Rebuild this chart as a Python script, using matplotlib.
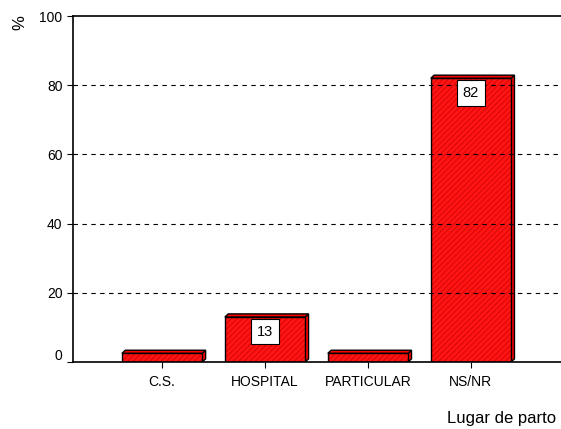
import numpy as np
import matplotlib.pyplot as plt
from matplotlib.patches import Polygon
import matplotlib.transforms as mtransforms

plt.rcParams['font.family'] = ['Liberation Sans', 'DejaVu Sans']
plt.rcParams['hatch.linewidth'] = 0.5

# Data
categorias = ['C.S.', 'HOSPITAL', 'PARTICULAR', 'NS/NR']
porcentajes = [2.5, 13, 2.5, 82]
etiquetas = ['', '13', '', '82']

fig = plt.figure(figsize=(5.61, 4.29), dpi=100)
ax = fig.add_axes([73 / 561, 1 - 362 / 429, 1 - 73 / 561, 346 / 429])

x = np.arange(len(categorias))
ancho = 0.78
dx, dy = 0.033, 0.9  # fake depth of the 3D bars

for xi, h, lab in zip(x, porcentajes, etiquetas):
    x0, x1 = xi - ancho / 2, xi + ancho / 2
    # side face
    ax.add_patch(Polygon([(x1, 0), (x1 + dx, dy), (x1 + dx, h + dy), (x1, h)],
                         closed=True, facecolor='#ff0000', edgecolor='black',
                         linewidth=1.0, zorder=2))
    # top face
    ax.add_patch(Polygon([(x0, h), (x0 + dx, h + dy), (x1 + dx, h + dy), (x1, h)],
                         closed=True, facecolor='#ff0000', edgecolor='black',
                         linewidth=1.0, zorder=2))
    # front face
    ax.bar(xi, h, width=ancho, color='#ff1414', edgecolor='#c80000', hatch='//////',
           linewidth=0, zorder=2)
    ax.bar(xi, h, width=ancho, fill=False, edgecolor='black', linewidth=1.0, zorder=2.1)
    if lab:
        ax.text(xi, h - 2.2, lab, ha='center', va='top', fontsize=10.5, zorder=5,
                bbox=dict(boxstyle='square,pad=0.4', facecolor='white',
                          edgecolor='black', linewidth=0.8))

ax.set_xlim(-0.865, 3.875)
ax.set_ylim(0, 100)
ax.set_yticks([0, 20, 40, 60, 80, 100])
ax.set_yticklabels(['0', '20', '40', '60', '80', '100'], fontsize=10)
ax.set_xticks(x)
ax.set_xticklabels(categorias, fontsize=10)
ax.tick_params(axis='both', length=4, width=0.8, color='black')
ax.tick_params(axis='x', pad=5)

# the 0 label sits a little above the base line
etq0 = ax.get_yticklabels()[0]
etq0.set_transform(etq0.get_transform() + mtransforms.ScaledTranslation(0, 7 / 100, fig.dpi_scale_trans))

for y in [20, 40, 60, 80]:
    ax.axhline(y, color='black', linestyle=(0, (4, 4)), linewidth=0.8, zorder=3)

ax.spines['right'].set_visible(False)
for s in ['left', 'top', 'bottom']:
    ax.spines[s].set_linewidth(1.2)

fig.text(20 / 561, 1 - 23 / 429, '%', rotation=90, ha='center', va='center', fontsize=12)
fig.text(556 / 561, 1 - 418 / 429, 'Lugar de parto', ha='right', va='center', fontsize=12)

fig.savefig('out.png', dpi=100)
